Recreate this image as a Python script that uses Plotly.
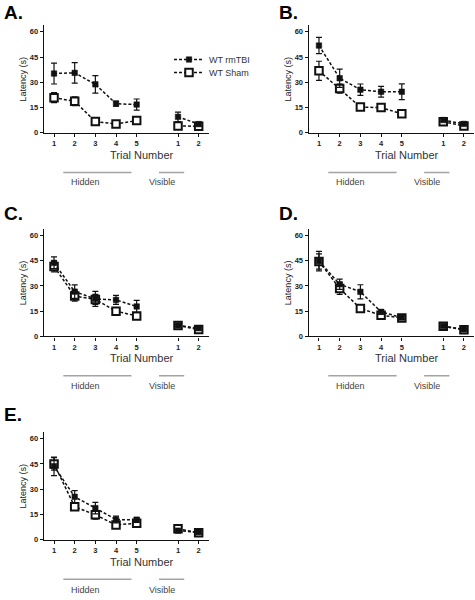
import plotly.graph_objects as go

# ---------------- data ----------------
trial_pos = [1, 2, 3, 4, 5, 6, 7, 8]          # 6 = gap between Hidden and Visible
tick_pos = [1, 2, 3, 4, 5, 7, 8]
tick_text = ["1", "2", "3", "4", "5", "1", "2"]
y_ticks = [0, 15, 30, 45, 60]

panel_labels = ["A.", "B.", "C.", "D.", "E."]
series_names = ["WT rmTBI", "WT Sham"]

# means for trials H1..H5, (gap), V1, V2
a_rmtbi = [35.2, 35.6, 28.8, 17.3, 16.8, None, 9.5, 5.2]
a_rmtbi_sem = [6.2, 6.1, 5.2, 1.5, 3.3, 0, 2.8, 1.0]
a_sham = [20.9, 18.7, 6.7, 5.3, 7.3, None, 4.1, 3.9]
a_sham_sem = [3.0, 2.6, 1.0, 0.6, 1.2, 0, 0.6, 0.5]

b_rmtbi = [51.8, 32.4, 25.6, 24.4, 24.4, None, 7.6, 5.3]
b_rmtbi_sem = [4.8, 5.4, 3.4, 3.2, 4.7, 0, 0.8, 0.6]
b_sham = [36.8, 26.3, 15.3, 15.0, 11.3, None, 6.6, 4.1]
b_sham_sem = [5.7, 2.7, 1.6, 1.5, 1.0, 0, 0.6, 0.5]

c_rmtbi = [43.7, 26.6, 22.3, 21.7, 17.8, None, 6.6, 4.9]
c_rmtbi_sem = [3.5, 4.0, 4.5, 2.7, 3.6, 0, 0.6, 0.6]
c_sham = [41.5, 24.0, 22.0, 15.0, 12.2, None, 6.5, 4.1]
c_sham_sem = [3.2, 3.0, 3.0, 1.5, 1.8, 0, 0.6, 0.5]

d_rmtbi = [44.7, 31.0, 26.5, 14.6, 11.2, None, 6.2, 4.2]
d_rmtbi_sem = [5.8, 3.0, 4.2, 1.4, 1.0, 0, 0.6, 0.5]
d_sham = [44.5, 28.5, 16.6, 12.6, 11.0, None, 6.0, 4.0]
d_sham_sem = [4.5, 3.5, 1.5, 1.0, 0.9, 0, 0.6, 0.5]

e_rmtbi = [43.6, 25.5, 18.8, 12.0, 11.8, None, 5.4, 4.5]
e_rmtbi_sem = [5.5, 3.7, 3.4, 2.0, 1.5, 0, 0.6, 0.5]
e_sham = [45.0, 19.6, 14.8, 8.8, 9.8, None, 6.5, 4.1]
e_sham_sem = [3.7, 2.0, 2.5, 1.5, 1.5, 0, 0.6, 0.5]

rmtbi_sets = [a_rmtbi, b_rmtbi, c_rmtbi, d_rmtbi, e_rmtbi]
rmtbi_sems = [a_rmtbi_sem, b_rmtbi_sem, c_rmtbi_sem, d_rmtbi_sem, e_rmtbi_sem]
sham_sets = [a_sham, b_sham, c_sham, d_sham, e_sham]
sham_sems = [a_sham_sem, b_sham_sem, c_sham_sem, d_sham_sem, e_sham_sem]

# ---------------- layout geometry ----------------
W, H = 475, 600
FONT = "Liberation Sans, Arial, Helvetica, sans-serif"
INK = "#111111"
GRAY = "#a3a3a3"

col_dom = [[0.092, 0.440], [0.6497, 0.9985]]
row_dom = [[0.7767, 0.958], [0.4345, 0.6158], [0.0928, 0.2742]]
# pixel rows for the text below each panel: (title, trial number, bar line, bar text)
row_px = [(13, 156, 174, 184), (215, 361, 379, 389), (418, 567, 584, 595)]
panel_cell = [(0, 0), (0, 1), (1, 0), (1, 1), (2, 0)]
title_x_px = [2, 277]


def py(px):
    return 1 - px / H


fig = go.Figure()
annotations = []
shapes = []

for i in range(5):
    r, c = panel_cell[i]
    ax = "" if i == 0 else str(i + 1)
    xa, ya = "x" + ax, "y" + ax

    # sham (open squares) first, rmTBI (filled) on top
    fig.add_trace(go.Scatter(
        x=trial_pos, y=sham_sets[i], xaxis=xa, yaxis=ya,
        name=series_names[1], legend="legend2", showlegend=(i == 0),
        mode="lines+markers", connectgaps=False,
        line=dict(color=INK, width=1.5, dash="3px,2px"),
        marker=dict(symbol="square", size=7.5, color="white",
                    line=dict(color=INK, width=2)),
        error_y=dict(type="data", array=sham_sems[i], color=INK,
                     thickness=1.2, width=3),
        cliponaxis=False,
    ))
    fig.add_trace(go.Scatter(
        x=trial_pos, y=rmtbi_sets[i], xaxis=xa, yaxis=ya,
        name=series_names[0], legend="legend", showlegend=(i == 0),
        mode="lines+markers", connectgaps=False,
        line=dict(color=INK, width=1.5, dash="3px,2px"),
        marker=dict(symbol="square", size=5.5, color=INK,
                    line=dict(color=INK, width=0.5)),
        error_y=dict(type="data", array=rmtbi_sems[i], color=INK,
                     thickness=1.2, width=3),
        cliponaxis=False,
    ))

    axis_common = dict(showgrid=False, zeroline=False, showline=True,
                       linecolor=INK, linewidth=1.2, ticks="outside",
                       ticklen=3, tickwidth=1.1, tickcolor=INK,
                       tickfont=dict(family=FONT, size=7.5, color="#222222",
                                     weight="bold"))
    fig.update_layout(**{
        ("xaxis" + ax): dict(axis_common, domain=col_dom[c], anchor=ya,
                             range=[0.5, 8.5], tickmode="array",
                             tickvals=tick_pos, ticktext=tick_text),
        ("yaxis" + ax): dict(axis_common, domain=row_dom[r], anchor=xa,
                             range=[0, 64], tickmode="array",
                             tickvals=y_ticks),
    })

    t_px, tn_px, bar_px, bt_px = row_px[r]
    x0, x1 = col_dom[c]
    # panel letter
    annotations.append(dict(text="<b>%s</b>" % panel_labels[i], x=title_x_px[c] / W,
                            y=py(t_px), xref="paper", yref="paper",
                            xanchor="left", yanchor="middle", showarrow=False,
                            font=dict(family=FONT, size=19, color="#000000")))
    # y axis title
    annotations.append(dict(text="Latency (s)", textangle=-90,
                            x=(x0 * W - 21) / W, y=(row_dom[r][0] + row_dom[r][1]) / 2,
                            xref="paper", yref="paper", showarrow=False,
                            xanchor="center", yanchor="middle",
                            font=dict(family=FONT, size=9, color="#222222")))
    # x axis title
    annotations.append(dict(text="Trial Number", x=(x0 * W + 98) / W, y=py(tn_px),
                            xref="paper", yref="paper", showarrow=False,
                            xanchor="center", yanchor="middle",
                            font=dict(family=FONT, size=11, color="#333333")))
    # Hidden / Visible bars and labels
    shapes.append(dict(type="line", xref=xa, yref="paper", x0=1.45, x1=4.75,
                       y0=py(bar_px), y1=py(bar_px), line=dict(color=GRAY, width=1.5)))
    shapes.append(dict(type="line", xref=xa, yref="paper", x0=6.08, x1=7.3,
                       y0=py(bar_px), y1=py(bar_px), line=dict(color=GRAY, width=1.5)))
    annotations.append(dict(text="Hidden", x=2.53, y=py(bt_px), xref=xa, yref="paper",
                            showarrow=False, xanchor="center", yanchor="middle",
                            font=dict(family=FONT, size=9, color="#444444")))
    annotations.append(dict(text="Visible", x=6.22, y=py(bt_px), xref=xa, yref="paper",
                            showarrow=False, xanchor="center", yanchor="middle",
                            font=dict(family=FONT, size=9, color="#444444")))

legend_common = dict(xanchor="left", yanchor="middle", bgcolor="rgba(0,0,0,0)",
                     font=dict(family=FONT, size=9, color="#333333"), itemwidth=30)

fig.update_layout(
    width=W, height=H,
    margin=dict(l=0, r=0, t=0, b=0),
    paper_bgcolor="white", plot_bgcolor="white",
    font=dict(family=FONT, color=INK),
    showlegend=True,
    legend=dict(legend_common, x=169 / W, y=py(60)),
    legend2=dict(legend_common, x=169 / W, y=py(73)),
    annotations=annotations,
    shapes=shapes,
)

fig.write_html("out.html",
               config={"displayModeBar": False},
               post_script="document.body.style.margin='0';"
                           "document.body.style.overflow='hidden';")
